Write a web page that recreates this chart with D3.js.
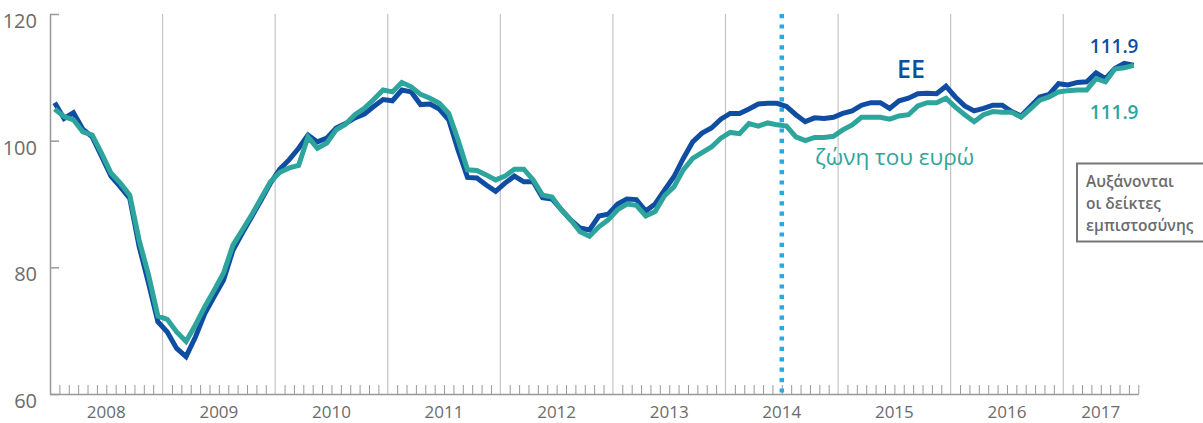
<!DOCTYPE html>
<html>
<head>
<meta charset="utf-8">
<script src="https://cdnjs.cloudflare.com/ajax/libs/d3/7.8.5/d3.min.js"></script>
<style>
  body { margin: 0; background: #fff; }
  svg text { font-family: "Open Sans", "Noto Sans", sans-serif; }
</style>
</head>
<body>
<script>
// monthly index, Jan 2008 .. Aug 2017
var years = [2008, 2009, 2010, 2011, 2012, 2013, 2014, 2015, 2016, 2017];
var yTicks = [60, 80, 100, 120];

// ΕΕ (EU)
var euValues = [
  106.0, 103.5, 104.4, 101.8, 100.6, 97.5, 94.4, 92.7, 90.9, 83.3, 77.5, 71.4,
  69.8, 67.2, 65.9, 69.0, 72.7, 75.4, 78.0, 82.7, 85.4, 88.0, 90.6, 93.3,
  95.5, 97.0, 98.8, 100.9, 99.8, 100.4, 102.0, 102.7, 103.6, 104.2, 105.4, 106.5,
  106.3, 108.0, 107.7, 105.7, 105.8, 105.0, 103.3, 98.5, 94.2, 94.1, 93.0, 92.0,
  93.3, 94.4, 93.5, 93.5, 91.0, 90.8, 89.1, 87.5, 86.2, 85.9, 88.1, 88.4,
  90.0, 90.8, 90.7, 88.9, 90.0, 92.2, 94.3, 97.2, 99.8, 101.2, 102.0, 103.4,
  104.3, 104.3, 105.0, 105.8, 105.9, 105.9, 105.4, 104.1, 103.0, 103.6, 103.5, 103.7,
  104.3, 104.7, 105.6, 106.0, 106.0, 105.1, 106.3, 106.7, 107.4, 107.5, 107.4, 108.6,
  106.9, 105.5, 104.7, 105.1, 105.6, 105.6, 104.6, 103.9, 105.4, 106.9, 107.3, 109.0,
  108.8, 109.2, 109.3, 110.7, 109.8, 111.4, 112.2, 111.9
];

// ζώνη του ευρώ (euro area)
var eaValues = [
  105.0, 103.8, 103.3, 101.4, 100.9, 98.0, 94.9, 93.3, 91.4, 84.3, 78.8, 72.3,
  71.8, 69.8, 68.3, 70.9, 73.8, 76.4, 79.1, 83.5, 85.9, 88.3, 90.9, 93.5,
  95.0, 95.7, 96.1, 100.6, 98.8, 99.6, 101.7, 102.6, 104.1, 105.1, 106.5, 108.0,
  107.7, 109.2, 108.5, 107.3, 106.7, 105.9, 104.3, 100.1, 95.4, 95.3, 94.6, 93.8,
  94.4, 95.5, 95.5, 93.8, 91.4, 91.1, 89.1, 87.5, 85.6, 84.9, 86.4, 87.5,
  89.1, 90.0, 89.8, 88.1, 88.8, 91.3, 92.7, 95.4, 97.2, 98.1, 99.0, 100.4,
  101.3, 101.1, 102.7, 102.3, 102.8, 102.5, 102.3, 100.6, 100.0, 100.5, 100.5, 100.7,
  101.7, 102.5, 103.7, 103.7, 103.7, 103.4, 103.9, 104.1, 105.5, 106.0, 106.0, 106.7,
  105.3, 104.1, 103.0, 104.1, 104.6, 104.5, 104.5, 103.7, 105.0, 106.4, 106.9, 107.7,
  107.9, 108.0, 108.0, 109.8, 109.3, 111.3, 111.5, 111.9
];

var markerMonth = 78; // July 2014
var boxLines = ["Αυξάνονται", "οι δείκτες", "εμπιστοσύνης"];

var blue = "#0f4da2", teal = "#2ea59c", grey = "#6b6b6b";

var width = 1203, height = 423;
var nMonths = euValues.length;

var x = d3.scaleLinear().domain([0, nMonths]).range([50, 1138.3]);
var y = d3.scaleLinear().domain([60, 120]).range([394, 14]);

var svg = d3.select("body").append("svg")
  .attr("width", width)
  .attr("height", height);

// year grid lines
svg.append("g").selectAll("line")
  .data(years.slice(1))
  .join("line")
  .attr("x1", function(d) { return x((d - 2008) * 12); })
  .attr("x2", function(d) { return x((d - 2008) * 12); })
  .attr("y1", y(120))
  .attr("y2", y(60))
  .attr("stroke", "#c4c4c4")
  .attr("stroke-width", 1.2);

// month ticks on the x axis
var monthTicks = d3.range(1, nMonths + 1).filter(function(m) { return m % 12 !== 0; });
var xAxis = svg.append("g")
  .attr("transform", "translate(0," + y(60) + ")")
  .call(d3.axisBottom(x).tickValues(monthTicks).tickSize(-9).tickSizeOuter(0).tickFormat(""));
xAxis.select(".domain").attr("stroke", "#999").attr("stroke-width", 1.5);
xAxis.selectAll(".tick line").attr("stroke", "#999").attr("stroke-width", 1);

// year labels
svg.append("g").selectAll("text")
  .data(years)
  .join("text")
  .attr("x", function(d) {
    var a = (d - 2008) * 12, b = Math.min(a + 12, nMonths);
    return (x(a) + x(b)) / 2;
  })
  .attr("y", 418)
  .attr("text-anchor", "middle")
  .attr("fill", grey)
  .attr("font-size", 17)
  .text(function(d) { return d; });

// y axis
var yAxis = svg.append("g")
  .attr("transform", "translate(50,0)")
  .call(d3.axisLeft(y).tickValues(yTicks).tickSize(-9).tickSizeOuter(0).tickPadding(13));
yAxis.select(".domain").attr("stroke", "#999").attr("stroke-width", 1.5);
yAxis.selectAll(".tick line").attr("stroke", "#999").attr("stroke-width", 1.5);
yAxis.selectAll(".tick text")
  .attr("fill", grey)
  .attr("font-size", 20)
  .attr("dy", "0.68em")
  .style("font-family", "'Open Sans', 'Noto Sans', sans-serif");

// dotted marker line
svg.append("line")
  .attr("x1", x(markerMonth))
  .attr("x2", x(markerMonth))
  .attr("y1", y(120))
  .attr("y2", y(60))
  .attr("stroke", "#27a9e1")
  .attr("stroke-width", 4.5)
  .attr("stroke-dasharray", "4.2,6.2");

// lines
var line = d3.line()
  .x(function(d, i) { return x(i + 0.5); })
  .y(function(d) { return y(d); });

svg.append("path")
  .datum(euValues)
  .attr("fill", "none")
  .attr("stroke", blue)
  .attr("stroke-width", 5)
  .attr("d", line);

svg.append("path")
  .datum(eaValues)
  .attr("fill", "none")
  .attr("stroke", teal)
  .attr("stroke-width", 5)
  .attr("d", line);

// series labels
svg.append("text")
  .attr("x", 897).attr("y", 78)
  .attr("fill", blue)
  .attr("font-size", 25)
  .attr("font-weight", 600)
  .text("ΕΕ");

svg.append("text")
  .attr("x", 815).attr("y", 165)
  .attr("fill", teal)
  .attr("font-size", 22.5)
  .text("ζώνη του ευρώ");

svg.append("text")
  .attr("x", 1138.5).attr("y", 53)
  .attr("text-anchor", "end")
  .attr("fill", blue)
  .attr("font-size", 19)
  .attr("font-weight", 600)
  .text(d3.format(".1f")(euValues[nMonths - 1]));

svg.append("text")
  .attr("x", 1138.5).attr("y", 119)
  .attr("text-anchor", "end")
  .attr("fill", teal)
  .attr("font-size", 19)
  .attr("font-weight", 600)
  .text(d3.format(".1f")(eaValues[nMonths - 1]));

// note box
svg.append("rect")
  .attr("x", 1077).attr("y", 163.5)
  .attr("width", 140).attr("height", 78)
  .attr("fill", "#fff")
  .attr("stroke", "#777")
  .attr("stroke-width", 2);

svg.append("g").selectAll("text")
  .data(boxLines)
  .join("text")
  .attr("x", 1086)
  .attr("y", function(d, i) { return 187 + i * 22; })
  .attr("fill", grey)
  .attr("font-size", 15.5)
  .attr("font-weight", 600)
  .text(function(d) { return d; });
</script>
</body>
</html>
